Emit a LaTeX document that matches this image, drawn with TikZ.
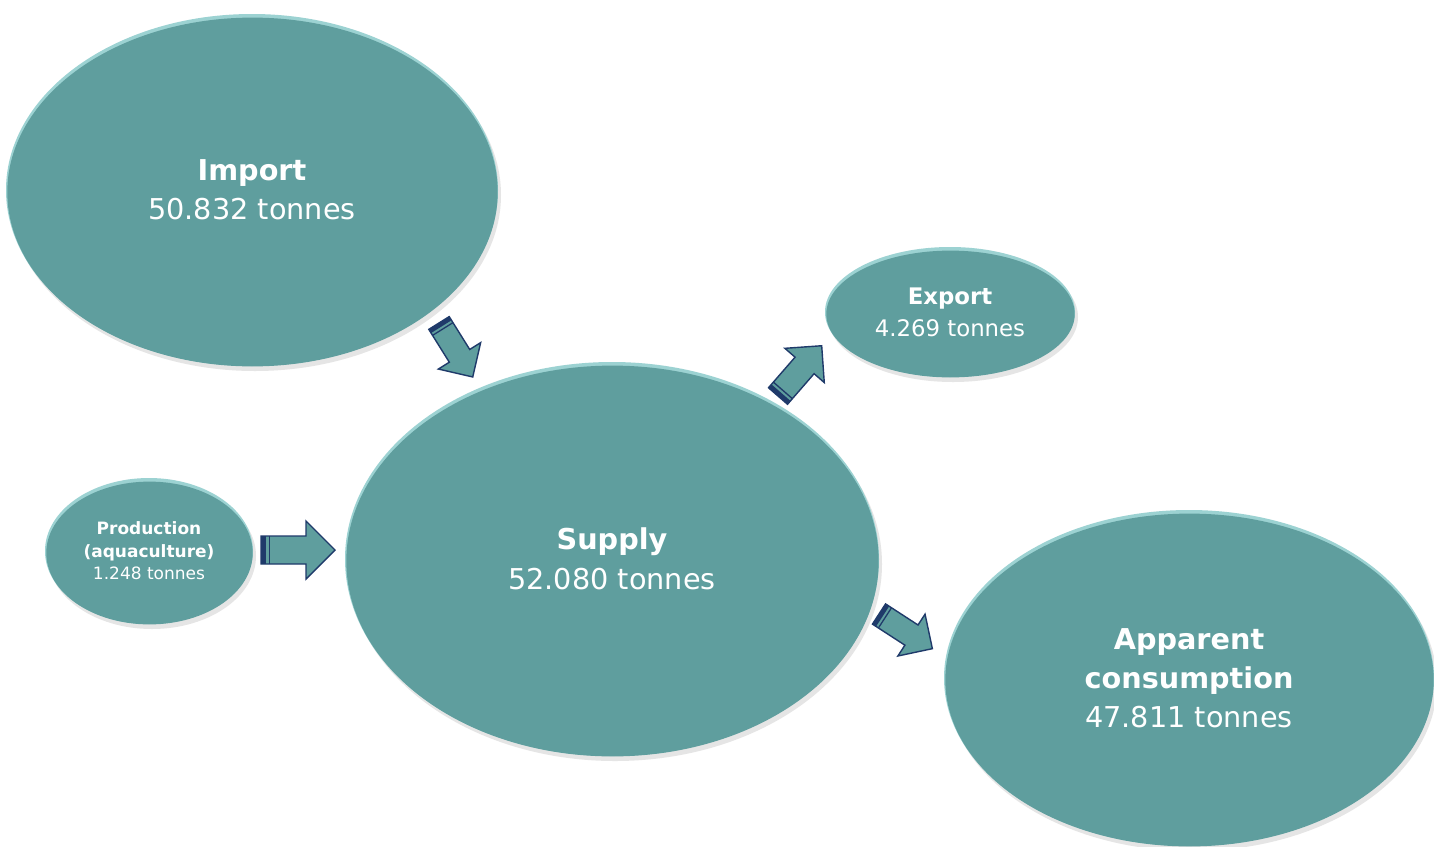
\documentclass[tikz,border=0pt]{standalone}
\usepackage{fontspec}
\setmainfont{DejaVu Sans}
\usetikzlibrary{shapes.geometric}
\definecolor{basec}{HTML}{5F9E9E}
\definecolor{rimc}{HTML}{9CD2D2}
\definecolor{navy}{HTML}{1F3A6A}
\definecolor{shadowc}{HTML}{8A8A8A}
\tikzset{
  bubble/.style={ellipse, inner sep=0pt, fill=rimc, draw=none},
  txt/.style={text=white, align=center, inner sep=0pt},
  arrfill/.style={fill=basec},
  arrdraw/.style={draw=navy, line width=1.4pt, line join=miter},
  arrbar/.style={fill=navy}
}
\newcommand\bub[7]{%
  \fill[shadowc, opacity=.22] (#2+3,#3+5) ellipse [x radius=#4, y radius=#5];
  \node[bubble, minimum width=2*#4, minimum height=2*#5] (#1) at (#2,#3) {};
  \fill[basec] (#2+0.5,#3+2) ellipse [x radius=#4-0.8, y radius=#5-1.6];
  \node[txt, font=#6] (#1-t) at (#2,#3) {#7};
}
\newcommand\blockarr[5]{%
  \coordinate (#1) at (#2,#3);
  \begin{scope}[shift={(#1)}, rotate=#4, scale=#5]
    \fill[arrfill] (0,-14) -- (45,-14) -- (45,-29) -- (74,0) -- (45,29) -- (45,14) -- (0,14) -- cycle;
    \fill[arrbar] (0,-14) rectangle (5,14);
    \fill[arrbar] (7.5,-14) rectangle (9,14);
    \draw[arrdraw] (0,-14) -- (45,-14) -- (45,-29) -- (74,0) -- (45,29) -- (45,14) -- (0,14) -- cycle;
  \end{scope}
}
\begin{document}
\begin{tikzpicture}[x=1pt,y=-1pt]
\useasboundingbox (0,0) rectangle (1434,846);
\fill[white] (0,0) rectangle (1434,846);
\bub{import}{252}{190}{246}{176}{\fontsize{28.7}{39}\selectfont}{\textbf{Import}\\50.832 tonnes}
\bub{export}{950}{312}{125}{65}{\fontsize{22.8}{32}\selectfont}{\textbf{Export}\\4.269 tonnes}
\bub{prod}{149}{551}{104}{73}{\fontsize{17}{22.5}\selectfont}{\textbf{Production}\\\textbf{(aquaculture)}\\1.248 tonnes}
\bub{supply}{612}{559}{267}{197}{\fontsize{28.7}{40}\selectfont}{\textbf{Supply}\\52.080 tonnes}
\bub{cons}{1189}{678}{245}{168}{\fontsize{28.7}{39}\selectfont}{\textbf{Apparent}\\\textbf{consumption}\\47.811 tonnes}
\blockarr{a1}{439}{323}{-58}{0.86}
\blockarr{a2}{261}{550}{0}{1}
\blockarr{a3}{778}{396}{49}{0.9}
\blockarr{a4}{879}{614}{-33}{0.86}
\end{tikzpicture}
\end{document}
